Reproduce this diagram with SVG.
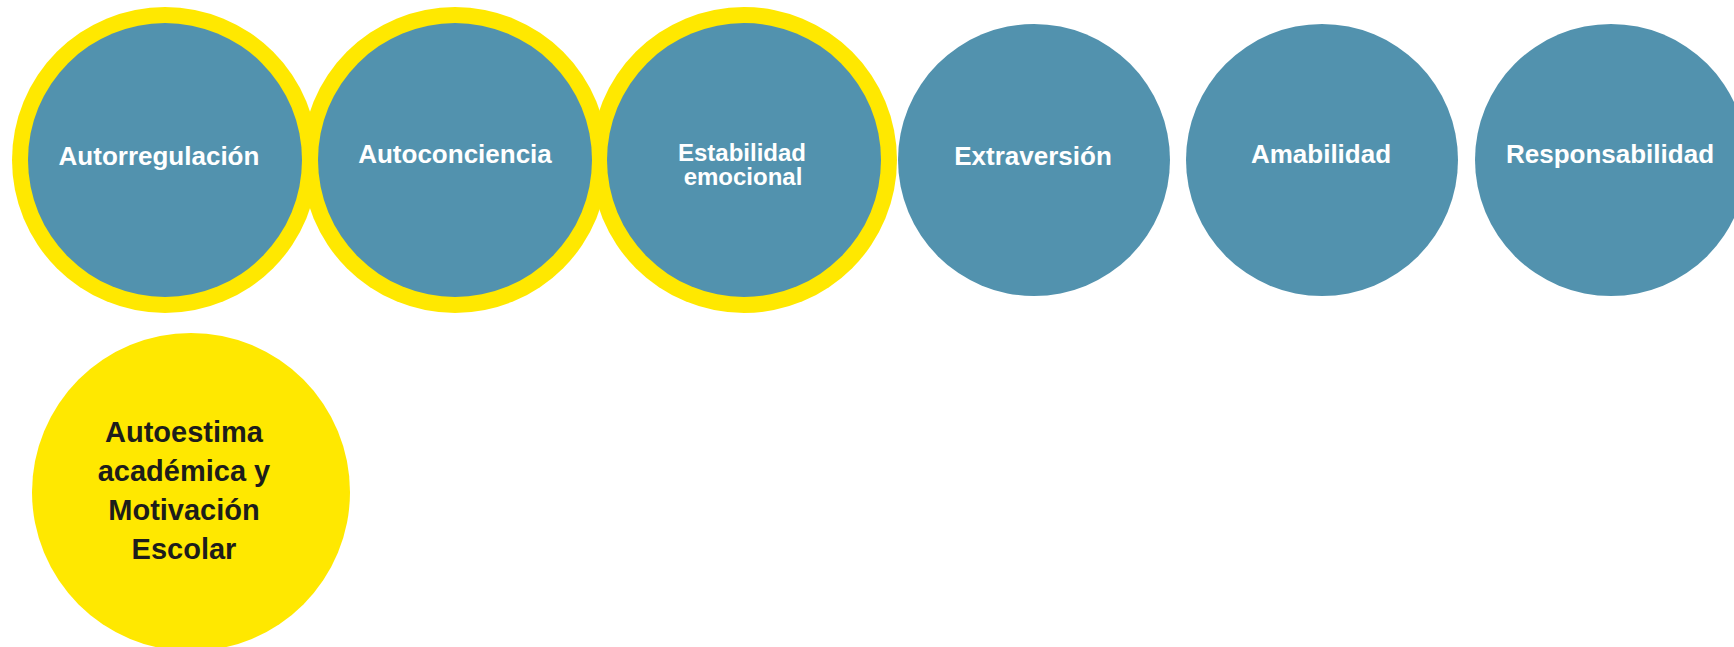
<svg xmlns="http://www.w3.org/2000/svg" width="1734" height="647" viewBox="0 0 1734 647">
  <style>
    .ring { fill: #FFE800; }
    .blue { fill: #5292AE; }
    .yel { fill: #FFE800; }
    .lbl { font-family: "Liberation Sans", Arial, sans-serif; font-weight: bold; font-size: 26px; fill: #FFFFFF; text-anchor: middle; }
    .tight { font-size: 24px; }
    .dark { font-family: "Liberation Sans", Arial, sans-serif; font-weight: bold; font-size: 29px; fill: #1D1D1B; text-anchor: middle; }
  </style>
  <rect width="1734" height="647" fill="#FFFFFF"/>
  <g id="rings">
    <circle class="ring" cx="165" cy="160" r="153"/>
    <circle class="ring" cx="455" cy="160" r="153"/>
    <circle class="ring" cx="744" cy="160" r="153"/>
  </g>
  <g id="node-autorregulacion">
    <circle class="blue" cx="165" cy="160" r="137"/>
    <text class="lbl" x="159" y="165">Autorregulación</text>
  </g>
  <g id="node-autoconciencia">
    <circle class="blue" cx="455" cy="160" r="137"/>
    <text class="lbl" x="455" y="163">Autoconciencia</text>
  </g>
  <g id="node-estabilidad">
    <circle class="blue" cx="744" cy="160" r="137"/>
    <text class="lbl tight" x="742" y="161">Estabilidad</text>
    <text class="lbl tight" x="743" y="185">emocional</text>
  </g>
  <g id="node-extraversion">
    <circle class="blue" cx="1034" cy="160" r="136"/>
    <text class="lbl" x="1033" y="165">Extraversión</text>
  </g>
  <g id="node-amabilidad">
    <circle class="blue" cx="1322" cy="160" r="136"/>
    <text class="lbl" x="1321" y="163">Amabilidad</text>
  </g>
  <g id="node-responsabilidad">
    <circle class="blue" cx="1611" cy="160" r="136"/>
    <text class="lbl" x="1610" y="163">Responsabilidad</text>
  </g>
  <g id="node-autoestima">
    <circle class="yel" cx="191" cy="492" r="159"/>
    <text class="dark" x="184" y="442">Autoestima</text>
    <text class="dark" x="184" y="481">académica y</text>
    <text class="dark" x="184" y="520">Motivación</text>
    <text class="dark" x="184" y="559">Escolar</text>
  </g>
  <g id="connectors"></g>
</svg>
